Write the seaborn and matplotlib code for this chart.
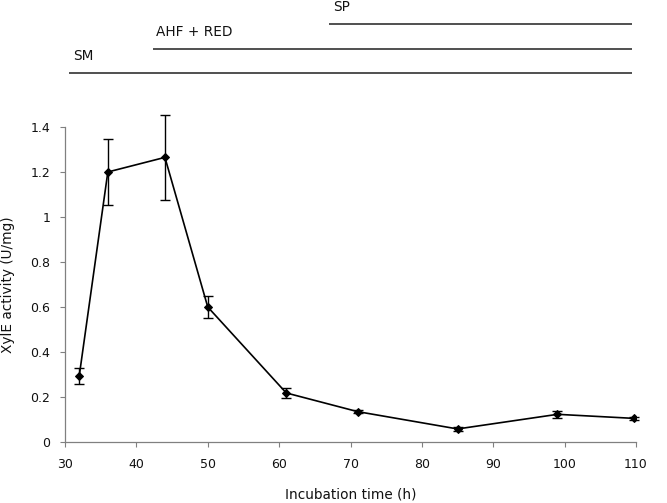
import numpy as np
import pandas as pd
import matplotlib
matplotlib.use('Agg')
import matplotlib.pyplot as plt
from matplotlib.ticker import FuncFormatter
import seaborn as sns

# ── Données ───────────────────────────────────────────────────────────────────
time_h   = [32, 36, 44, 50, 61, 71, 85, 99, 109.7]
activity = [0.295, 1.20, 1.265, 0.60, 0.218, 0.135, 0.058, 0.123, 0.105]
err      = [0.035, 0.147, 0.19, 0.05, 0.022, 0.008, 0.008, 0.015, 0.007]

phase_names = ['SM', 'AHF + RED', 'SP']
phase_start = [30.6, 42.3, 67.0]
phase_end   = [109.4, 109.5, 109.4]

df = pd.DataFrame({'time': time_h, 'activity': activity})

sns.set_theme(style='white')
plt.rcParams['font.family'] = ['DejaVu Sans']
plt.rcParams['text.color'] = '#111111'
plt.rcParams['axes.labelcolor'] = '#111111'
plt.rcParams['xtick.labelcolor'] = '#111111'
plt.rcParams['ytick.labelcolor'] = '#111111'

W, H = 667, 503
fig = plt.figure(figsize=(W / 100, H / 100), dpi=100)
ax = fig.add_axes([65 / W, 1 - 442 / H, 571 / W, 315 / H])
# axe du haut en pixels (0 = haut de la figure)
ax_top = fig.add_axes([65 / W, 1 - 100 / H, 571 / W, 100 / H], sharex=ax)

# ── Courbe principale ─────────────────────────────────────────────────────────
sns.lineplot(data=df, x='time', y='activity', ax=ax, color='black',
             marker='D', markersize=4, linewidth=1.2, markeredgecolor='black')
ax.errorbar(time_h, activity, yerr=err, fmt='none', ecolor='black',
            elinewidth=1, capsize=3.5, capthick=1, clip_on=False)

ax.set_xlim(30, 110)
ax.set_ylim(0, 1.4)
ax.set_xticks(np.arange(30, 111, 10))
ax.set_yticks(np.arange(0, 1.41, 0.2))
ax.yaxis.set_major_formatter(FuncFormatter(lambda v, p: f'{v:g}'))
ax.tick_params(axis='both', direction='out', length=3.5, width=0.8,
               color='#808080', labelsize=9, bottom=True, left=True)
ax.tick_params(axis='x', pad=8)
ax.tick_params(axis='y', pad=7)
for s in ['top', 'right']:
    ax.spines[s].set_visible(False)
for s in ['left', 'bottom']:
    ax.spines[s].set_color('#808080')
    ax.spines[s].set_linewidth(0.9)
ax.set_xlabel('Incubation time (h)', fontsize=9.8, labelpad=12)
ax.set_ylabel('XylE activity (U/mg)', fontsize=9.8, labelpad=11)

# ── Phases (en haut) ──────────────────────────────────────────────────────────
ax_top.set_ylim(100, 0)
for k, (name, x0, x1) in enumerate(zip(phase_names, phase_start, phase_end)):
    y = 73 - 24.3 * k
    ax_top.hlines(y, x0, x1, color='#202020', linewidth=1.1)
    ax_top.text(x0 + 0.5, y - 17, name, fontsize=9.8, ha='left', va='center')
ax_top.axis('off')

plt.savefig('out.png', dpi=100)
plt.close()
